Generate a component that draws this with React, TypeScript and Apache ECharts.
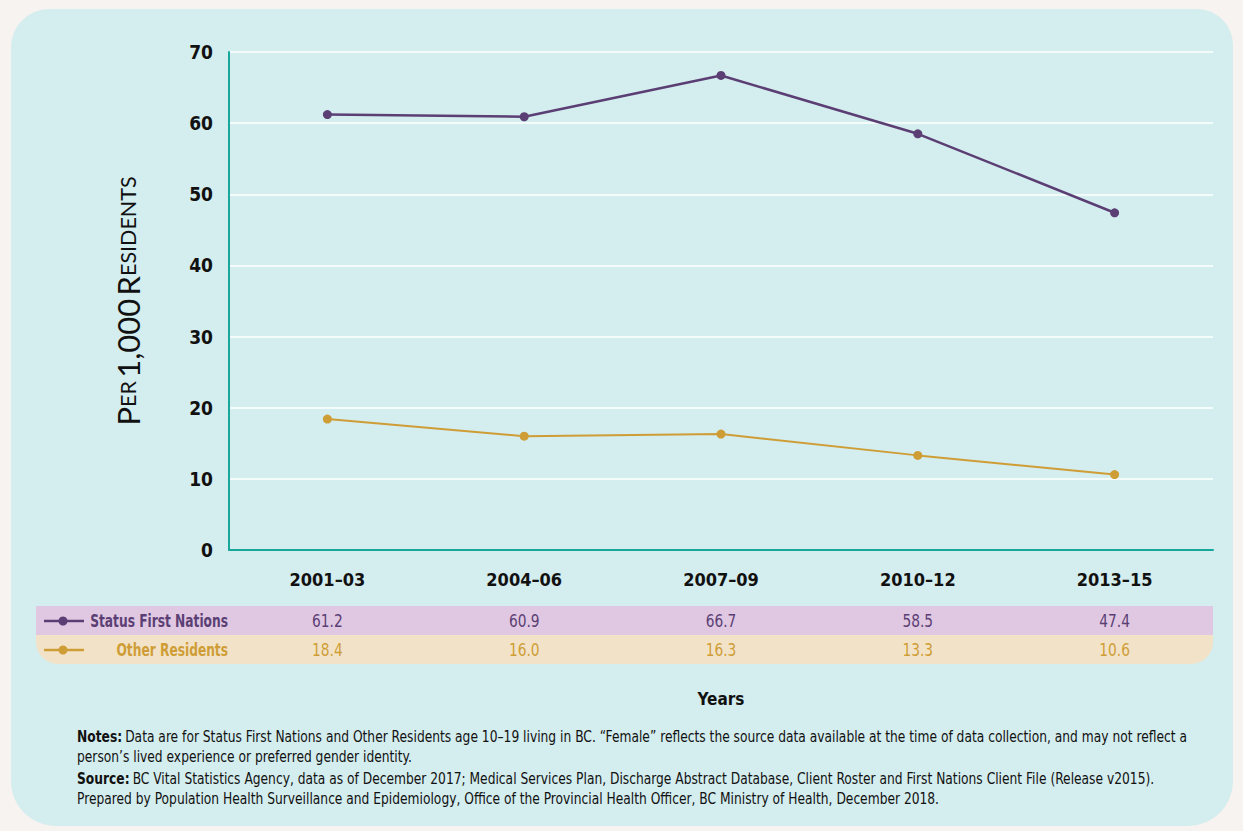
import React, { useEffect, useRef } from 'react';
import * as echarts from 'echarts';

const categories = ['2001–03', '2004–06', '2007–09', '2010–12', '2013–15'];
const firstNations = [61.2, 60.9, 66.7, 58.5, 47.4];
const otherResidents = [18.4, 16.0, 16.3, 13.3, 10.6];
const seriesNames = ['Status First Nations', 'Other Residents'];
const yAxisTitle = '{b|P}{s|ER} {b|1,000} {b|R}{s|ESIDENTS}';
const xAxisTitle = 'Years';
const notesText = '{h|Notes:} {t|Data are for Status First Nations and Other Residents age 10–19 living in BC. “Female” reflects the source data available at the time of data collection, and may not reflect a}\n{t|person’s lived experience or preferred gender identity.}';
const sourceText = '{h|Source:} {t|BC Vital Statistics Agency, data as of December 2017; Medical Services Plan, Discharge Abstract Database, Client Roster and First Nations Client File (Release v2015).}\n{t|Prepared by Population Health Surveillance and Epidemiology, Office of the Provincial Health Officer, BC Ministry of Health, December 2018.}';

const PURPLE = '#5b3f74';
const GOLD = '#cf9d36';
const TEAL = '#17a89b';
const NARROW = "'Liberation Sans Narrow', 'DejaVu Sans Condensed', sans-serif";

export default function App() {
  const ref = useRef<HTMLDivElement>(null);
  useEffect(() => {
    if (!ref.current) return;
    const chart = echarts.init(ref.current, undefined, { renderer: 'svg' });
    const gridLeft = 229, gridRight = 30, gridTop = 52, gridBottom = 281;
    chart.setOption({
      animation: false,
      backgroundColor: '#f7f3f0',
      grid: { left: gridLeft, right: gridRight, top: gridTop, bottom: gridBottom, containLabel: false },
      xAxis: {
        type: 'category',
        data: categories,
        boundaryGap: true,
        axisLine: { show: true, lineStyle: { color: TEAL, width: 2 } },
        axisTick: { show: false },
        axisLabel: { color: '#111', fontFamily: NARROW, fontWeight: 'bold', fontSize: 18, margin: 20 },
        name: xAxisTitle,
        nameLocation: 'middle',
        nameGap: 140,
        nameTextStyle: { color: '#111', fontFamily: NARROW, fontWeight: 'bold', fontSize: 17 },
      },
      yAxis: {
        type: 'value',
        min: 0,
        max: 70,
        interval: 10,
        axisLine: { show: true, lineStyle: { color: TEAL, width: 2 } },
        axisTick: { show: false },
        axisLabel: { color: '#111', fontFamily: NARROW, fontWeight: 'bold', fontSize: 19, margin: 16 },
        splitLine: { show: true, lineStyle: { color: '#ffffff', width: 1.5 } },
        name: yAxisTitle,
        nameLocation: 'middle',
        nameRotate: 90,
        nameGap: 86,
        nameTextStyle: {
          color: '#111',
          rich: {
            b: { fontFamily: 'Lato, sans-serif', fontSize: 31, color: '#111' },
            s: { fontFamily: 'Lato, sans-serif', fontSize: 21.5, color: '#111' },
          },
        },
      },
      series: [
        {
          name: seriesNames[0], type: 'line', data: firstNations,
          symbol: 'circle', symbolSize: 9,
          lineStyle: { color: PURPLE, width: 2.5 }, itemStyle: { color: PURPLE },
        },
        {
          name: seriesNames[1], type: 'line', data: otherResidents,
          symbol: 'circle', symbolSize: 9,
          lineStyle: { color: GOLD, width: 2 }, itemStyle: { color: GOLD },
        },
      ],
    });

    const xs = categories.map((_, i) => chart.convertToPixel({ xAxisIndex: 0 }, i) as number);
    const rowY = [606, 635];
    const rowH = 29;
    const rowColors = [PURPLE, GOLD];
    const rowBg = ['#e0c8e2', '#f2e3c8'];
    const tableLeft = 36, tableRight = 1243 - gridRight;
    const graphics: any[] = [
      {
        type: 'rect', z: -10, silent: true,
        shape: { x: 11, y: 9, width: 1222, height: 817, r: [38, 36, 45, 45] },
        style: { fill: '#d4edee' },
      },
    ];
    const rows = [firstNations, otherResidents];
    rows.forEach((vals, r) => {
      graphics.push({
        type: 'rect', z: -5, silent: true,
        shape: { x: tableLeft, y: rowY[r], width: tableRight - tableLeft, height: rowH, r: r === 1 ? [0, 0, 22, 22] : 0 },
        style: { fill: rowBg[r] },
      });
      const cy = rowY[r] + rowH / 2 + 0.5;
      graphics.push({
        type: 'line', silent: true,
        shape: { x1: 44, y1: cy, x2: 84, y2: cy },
        style: { stroke: rowColors[r], lineWidth: 2.5 },
      });
      graphics.push({
        type: 'circle', silent: true,
        shape: { cx: 63, cy, r: 4.5 },
        style: { fill: rowColors[r] },
      });
      graphics.push({
        type: 'text', silent: true, x: 228, y: cy, scaleX: 0.8,
        style: { text: seriesNames[r], fill: rowColors[r], font: `bold 17px ${NARROW}`, align: 'right', verticalAlign: 'middle' },
      });
      vals.forEach((v, i) => {
        graphics.push({
          type: 'text', silent: true, x: xs[i], y: cy, scaleX: 0.9,
          style: { text: v.toFixed(1), fill: rowColors[r], font: `17px ${NARROW}`, align: 'center', verticalAlign: 'middle' },
        });
      });
    });
    const noteRich = {
      h: { fontFamily: NARROW, fontWeight: 'bold', fontSize: 15, fill: '#111', lineHeight: 20 },
      t: { fontFamily: NARROW, fontSize: 15, fill: '#111', lineHeight: 20 },
    };
    graphics.push({
      type: 'text', silent: true, x: 77, y: 727, scaleX: 0.91,
      style: { text: notesText, rich: noteRich, fill: '#111', align: 'left', verticalAlign: 'top' },
    });
    graphics.push({
      type: 'text', silent: true, x: 77, y: 769, scaleX: 0.91,
      style: { text: sourceText, rich: noteRich, fill: '#111', align: 'left', verticalAlign: 'top' },
    });
    chart.setOption({ graphic: graphics });

    return () => chart.dispose();
  }, []);
  return <div ref={ref} style={{ position: 'fixed', left: 0, top: 0, width: 1243, height: 831 }} />;
}
